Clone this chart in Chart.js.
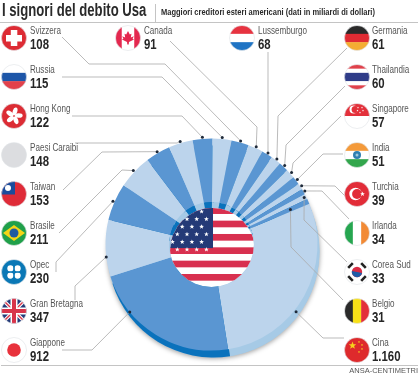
<!DOCTYPE html>
<html>
<head>
<meta charset="utf-8">
<title>I signori del debito Usa</title>
<script src="https://cdn.jsdelivr.net/npm/chart.js@4"></script>
<style>
  html, body { margin: 0; padding: 0; background: #fff; }
  canvas { display: block; }
</style>
</head>
<body>
<canvas id="debito" width="420" height="375"></canvas>
<script>
// slices, clockwise starting from Cina
const paesi = ['Cina', 'Giappone', 'Gran Bretagna', 'Opec', 'Brasile', 'Taiwan', 'Paesi Caraibi', 'Hong Kong', 'Russia', 'Svizzera',
    'Canada', 'Lussemburgo', 'Germania', 'Thailandia', 'Singapore', 'India', 'Turchia', 'Irlanda', 'Corea Sud', 'Belgio'];
const valori = [1160, 912, 347, 230, 211, 153, 148, 122, 115, 108, 91, 68, 61, 60, 57, 51, 39, 34, 33, 31];

const titolo = 'I signori del debito Usa';
const sottotitolo = 'Maggiori creditori esteri americani (dati in miliardi di dollari)';
const fonte = 'ANSA-CENTIMETRI';

const CHIARO = '#bcd4ec', SCURO = '#5a96d2';
const CHIARO_BORDO = '#a6cae6', SCURO_BORDO = '#0a72bc';
const colori = paesi.map((p, i) => i % 2 ? SCURO : CHIARO);
const coloriBordo = paesi.map((p, i) => i % 2 ? SCURO_BORDO : CHIARO_BORDO);

// label layout: flag centre, text x, leader line points, where the line lands on the slice
const posti = {
    'Svizzera': { x: 14, y: 38, tx: 30, linea: [[62, 37], [89, 64], [165, 64]] },
    'Russia': { x: 14, y: 77, tx: 30, linea: [[62, 77], [162, 77]] },
    'Hong Kong': { x: 14, y: 116, tx: 30, linea: [[72, 116], [182, 116]] },
    'Paesi Caraibi': { x: 14, y: 155, tx: 30, linea: [[75, 143], [177, 143]] },
    'Taiwan': { x: 14, y: 194, tx: 30, linea: [[63, 190], [102, 152]] },
    'Brasile': { x: 14, y: 233, tx: 30, linea: [[59, 233], [122, 170]] },
    'Opec': { x: 14, y: 272, tx: 30, linea: [[56, 272], [56, 262]] },
    'Gran Bretagna': { x: 14, y: 311, tx: 30, linea: [[75, 300], [75, 286]], f: 0.35, r: 1 },
    'Giappone': { x: 14, y: 350, tx: 30, linea: [[62, 350], [92, 350]], f: 0.73, r: 1 },
    'Canada': { x: 128, y: 38, tx: 144, linea: [[170, 41], [257, 127]] },
    'Lussemburgo': { x: 242, y: 38, tx: 258, linea: [[268, 52]] },
    'Germania': { x: 357, y: 38, tx: 372, linea: [[347, 48], [278, 116]] },
    'Thailandia': { x: 357, y: 77, tx: 372, linea: [[345, 86], [286, 145]] },
    'Singapore': { x: 357, y: 116, tx: 372, linea: [[341, 116], [293, 163]] },
    'India': { x: 357, y: 155, tx: 372, linea: [[343, 154], [323, 154]] },
    'Turchia': { x: 357, y: 194, tx: 372, linea: [[345, 196], [335, 186]] },
    'Irlanda': { x: 357, y: 233, tx: 372, linea: [[349, 219], [322, 191]] },
    'Corea Sud': { x: 357, y: 272, tx: 372, linea: [[347, 262], [304, 220]], r: 0.98 },
    'Belgio': { x: 357, y: 311, tx: 372, linea: [[343, 300], [291, 247]], r: 0.815 },
    'Cina': { x: 357, y: 350, tx: 372, linea: [[344, 338], [323, 338]], f: 0.59, r: 1.02 }
};

function stella(c, x, y, r, colore) {
    c.fillStyle = colore;
    c.beginPath();
    for (let i = 0; i < 10; i++) {
        const a = -Math.PI / 2 + i * Math.PI / 5;
        const q = i % 2 ? r * 0.42 : r;
        c.lineTo(x + q * Math.cos(a), y + q * Math.sin(a));
    }
    c.closePath();
    c.fill();
}

function bande(c, lista) {
    // horizontal stripes over the -12.5..12.5 box
    const h = 25 / lista.length;
    lista.forEach((col, i) => { c.fillStyle = col; c.fillRect(-13, -12.5 + i * h, 26, h + 0.3); });
}
function colonne(c, lista) {
    const w = 25 / lista.length;
    lista.forEach((col, i) => { c.fillStyle = col; c.fillRect(-12.5 + i * w, -13, w + 0.3, 26); });
}
function disco(c, x, y, r, col) {
    c.fillStyle = col;
    c.beginPath();
    c.arc(x, y, r, 0, Math.PI * 2);
    c.fill();
}
// no narrow font installed: squeeze Liberation Sans horizontally
function testo(c, str, x, y, font, stretta) {
    c.save();
    c.translate(x, y);
    c.scale(stretta, 1);
    c.font = font;
    c.fillText(str, 0, 0);
    c.restore();
}

// one small drawing per flag, around 0,0
const bandiere = {
    'Svizzera': c => { bande(c, ['#dd2b34']); c.fillStyle = '#fff'; c.fillRect(-8, -3, 16, 6.5); c.fillRect(-3.2, -8, 6.5, 16); },
    'Russia': c => bande(c, ['#fff', '#1d56a8', '#e2414b']),
    'Hong Kong': c => {
        bande(c, ['#dc2c34']);
        for (let i = 0; i < 5; i++) {
            c.save();
            c.rotate(i * Math.PI * 2 / 5);
            c.fillStyle = '#fff';
            c.beginPath();
            c.ellipse(1, -4.6, 2.3, 4, 0.3, 0, Math.PI * 2);
            c.fill();
            c.restore();
        }
    },
    'Paesi Caraibi': c => bande(c, ['#dcdde0']),
    'Taiwan': c => { bande(c, ['#df2b38']); c.fillStyle = '#1b4c9c'; c.fillRect(-13, -13, 14, 13.5); disco(c, -6, -6, 3, '#fff'); },
    'Brasile': c => {
        bande(c, ['#20a04a']);
        c.fillStyle = '#f4d516';
        c.beginPath();
        c.moveTo(-11, 0); c.lineTo(0, -8); c.lineTo(11, 0); c.lineTo(0, 8);
        c.fill();
        disco(c, 0, 0, 4.5, '#1e5aa0');
    },
    'Opec': c => {
        bande(c, ['#0a78b6']);
        [[-3.6, -3.6], [3.6, -3.6], [-3.6, 3.6], [3.6, 3.6]].forEach(p => disco(c, p[0], p[1], 3.1, '#fff'));
        c.fillStyle = '#0a78b6';
        c.fillRect(-0.6, -9, 1.2, 18);
        c.fillRect(-9, -0.6, 18, 1.2);
    },
    'Gran Bretagna': c => {
        bande(c, ['#233a78']);
        c.strokeStyle = '#fff'; c.lineWidth = 3.6;
        c.beginPath(); c.moveTo(-13, -13); c.lineTo(13, 13); c.moveTo(13, -13); c.lineTo(-13, 13); c.stroke();
        c.strokeStyle = '#d8344a'; c.lineWidth = 1.4;
        c.stroke();
        c.fillStyle = '#fff'; c.fillRect(-13, -3.5, 26, 7); c.fillRect(-3.5, -13, 7, 26);
        c.fillStyle = '#d8344a'; c.fillRect(-13, -2, 26, 4); c.fillRect(-2, -13, 4, 26);
    },
    'Giappone': c => { bande(c, ['#fff']); disco(c, 0, 0, 6.8, '#e8323c'); },
    'Canada': c => {
        colonne(c, ['#e4284f', '#fff', '#fff', '#e4284f']);
        c.fillStyle = '#e4284f';
        c.beginPath();
        [[0, -7], [1.8, -3.5], [3.5, -4.2], [2.8, -0.6], [5.8, -1.8], [4.6, 0.8], [6, 1.6], [1, 4], [0.7, 6.5], [-0.7, 6.5], [-1, 4], [-6, 1.6], [-4.6, 0.8], [-5.8, -1.8], [-2.8, -0.6], [-3.5, -4.2], [-1.8, -3.5]]
            .forEach(p => c.lineTo(p[0], p[1]));
        c.fill();
    },
    'Lussemburgo': c => bande(c, ['#e63340', '#fff', '#1f74c4']),
    'Germania': c => bande(c, ['#2a2a2a', '#e02b33', '#f4ad33']),
    'Thailandia': c => bande(c, ['#e0414b', '#fff', '#2f3c88', '#2f3c88', '#fff', '#e0414b']),
    'Singapore': c => {
        bande(c, ['#e3303a', '#fff']);
        disco(c, -3.5, -6.5, 4, '#fff');
        disco(c, -1.8, -6.5, 3.6, '#e3303a');
        [[1, -8.5], [5, -8.5], [6, -5.5], [3, -3.5], [0.5, -5.5]].forEach(p => stella(c, p[0], p[1], 1.1, '#fff'));
    },
    'India': c => {
        bande(c, ['#f49a3a', '#fff', '#32a64c']);
        disco(c, 0, 0, 4, '#2f7fb0');
        disco(c, 0, 0, 1.5, '#9cc7de');
    },
    'Turchia': c => {
        bande(c, ['#e22c38']);
        disco(c, -1.5, 0, 6.2, '#fff');
        disco(c, 0, 0, 4.9, '#e22c38');
        stella(c, 5.5, 0, 2.5, '#fff');
    },
    'Irlanda': c => colonne(c, ['#26a650', '#fff', '#f28a35']),
    'Corea Sud': c => {
        bande(c, ['#fff']);
        disco(c, 0, 0, 5.2, '#d92b44');
        c.fillStyle = '#1f5ca8';
        c.beginPath(); c.arc(0, 0, 5.2, 0.2, Math.PI + 0.2); c.fill();
        c.strokeStyle = '#222'; c.lineWidth = 2.6;
        [[-1, -1], [1, -1], [-1, 1], [1, 1]].forEach(p => {
            c.beginPath();
            c.moveTo(p[0] * 6.5 - p[1] * 2.3, p[1] * 6.5 + p[0] * 2.3);
            c.lineTo(p[0] * 6.5 + p[1] * 2.3, p[1] * 6.5 - p[0] * 2.3);
            c.stroke();
        });
    },
    'Belgio': c => colonne(c, ['#2a2a2a', '#f7e017', '#e3303a']),
    'Cina': c => {
        bande(c, ['#de2a2c']);
        stella(c, -4.5, -4.5, 4, '#f6d11d');
        [[2, -8], [5, -5], [5, -1], [2, 2]].forEach(p => stella(c, p[0], p[1], 1.2, '#f6d11d'));
    }
};

function numero(v) {
    return String(v).replace(/\B(?=(\d{3})+$)/g, '.');
}

// side wall and shadow under the top face
const parete = {
    id: 'parete',
    beforeDatasetsDraw(chart) {
        const c = chart.ctx;
        const archi = chart.getDatasetMeta(0).data;
        const cx = archi[0].x, cy = archi[0].y, R = archi[0].outerRadius;
        c.save();
        c.shadowColor = 'rgba(0,0,0,0.4)';
        c.shadowBlur = 5;
        c.shadowOffsetY = 1;
        disco(c, cx + 2, cy + 7, R, CHIARO_BORDO);
        c.restore();
        archi.forEach((a, i) => {
            c.fillStyle = coloriBordo[i];
            c.beginPath();
            c.moveTo(cx + 2, cy + 7);
            c.arc(cx + 2, cy + 7, R, a.startAngle, a.endAngle);
            c.closePath();
            c.fill();
        });
    }
};

// centre hole, flag, labels and leader lines
const contorno = {
    id: 'contorno',
    afterDatasetsDraw(chart) {
        const c = chart.ctx;
        const archi = chart.getDatasetMeta(0).data;
        const cx = archi[0].x, cy = archi[0].y, R = archi[0].outerRadius, r0 = archi[0].innerRadius;
        c.textBaseline = 'middle';
        c.textAlign = 'left';

        // inner wall seen inside the hole
        c.save();
        c.beginPath();
        c.arc(cx, cy, r0, 0, Math.PI * 2);
        c.clip();
        archi.forEach((a, i) => {
            c.fillStyle = coloriBordo[i];
            c.beginPath();
            c.moveTo(cx, cy);
            c.arc(cx, cy, r0 + 1, a.startAngle, a.endAngle);
            c.closePath();
            c.fill();
        });
        // flag, shifted down like the wall
        c.beginPath();
        c.arc(cx + 1, cy + 6, r0, 0, Math.PI * 2);
        c.clip();
        c.fillStyle = '#fff';
        c.fillRect(cx - r0 - 2, cy - r0 - 2, r0 * 2 + 4, r0 * 2 + 8);
        const y0 = cy - 37.2, alt = 6.67;
        for (let i = 0; i < 13; i += 2) {
            c.fillStyle = '#d8304f';
            c.fillRect(cx - r0 - 2, y0 + i * alt, r0 * 2 + 6, alt);
        }
        c.fillStyle = '#243a77';
        c.fillRect(cx - r0 - 2, cy - r0 - 2, r0 + 3.5, 48);
        for (let riga = 0; riga < 6; riga++) {
            for (let col = 0; col < 5; col++) {
                const sx = cx - 39 + col * 9.7 + (riga % 2 ? 4.8 : 0);
                if (sx < cx - 3) stella(c, sx, cy - 33 + riga * 7.6, 2.5, '#fff');
            }
        }
        c.restore();

        // leader lines end on a dot on their slice
        paesi.forEach((nome, i) => {
            const p = posti[nome], a = archi[i];
            const ang = a.startAngle + (a.endAngle - a.startAngle) * (p.f === undefined ? 0.5 : p.f);
            const q = R * (p.r === undefined ? 1.015 : p.r);
            const dx = cx + q * Math.cos(ang), dy = cy + q * Math.sin(ang);
            c.strokeStyle = '#a9a9a9';
            c.lineWidth = 0.8;
            c.beginPath();
            p.linea.forEach(t => c.lineTo(t[0], t[1]));
            c.lineTo(dx, dy);
            c.stroke();
            disco(c, dx, dy, 1.5, '#1f2a3a');
        });

        // flags and text
        paesi.forEach((nome, i) => {
            const p = posti[nome];
            c.save();
            c.translate(p.x, p.y);
            c.fillStyle = '#fff';
            c.beginPath();
            c.arc(0, 0, 12.5, 0, Math.PI * 2);
            c.fill();
            c.clip();
            bandiere[nome](c);
            c.restore();
            c.strokeStyle = '#dfe2e5';
            c.lineWidth = 0.6;
            c.beginPath();
            c.arc(p.x, p.y, 12.5, 0, Math.PI * 2);
            c.stroke();

            c.fillStyle = '#555';
            testo(c, nome, p.tx, p.y - 6.5, '10.5px "Liberation Sans"', 0.77);
            c.fillStyle = '#262626';
            testo(c, numero(valori[i]), p.tx, p.y + 6.5, 'bold 15px "Liberation Sans"', 0.76);
        });

        // header and footer
        c.fillStyle = '#2a2a2a';
        testo(c, titolo, 2, 11.5, 'bold 17.5px "Liberation Sans"', 0.75);
        testo(c, sottotitolo, 161, 12.5, 'bold 9.5px "Liberation Sans"', 0.79);
        c.strokeStyle = '#b5b5b5';
        c.lineWidth = 0.8;
        c.beginPath();
        c.moveTo(0, 22.5); c.lineTo(418, 22.5);
        c.moveTo(155.5, 4); c.lineTo(155.5, 22);
        c.moveTo(1, 365.5); c.lineTo(418, 365.5);
        c.stroke();
        c.fillStyle = '#555';
        c.font = '7.5px "Liberation Sans"';
        c.textAlign = 'right';
        c.fillText(fonte, 418, 370.5);
    }
};

new Chart(document.getElementById('debito'), {
    type: 'doughnut',
    data: {
        labels: paesi,
        datasets: [{
            data: valori,
            backgroundColor: colori,
            borderWidth: 0,
            hoverOffset: 0
        }]
    },
    options: {
        responsive: false,
        animation: false,
        rotation: 67.4,
        cutout: '40%',
        layout: { padding: { left: 105.5, right: 102.5, top: 138.5, bottom: 24.5 } },
        plugins: {
            legend: { display: false },
            tooltip: { enabled: false }
        }
    },
    plugins: [parete, contorno]
});
</script>
</body>
</html>
